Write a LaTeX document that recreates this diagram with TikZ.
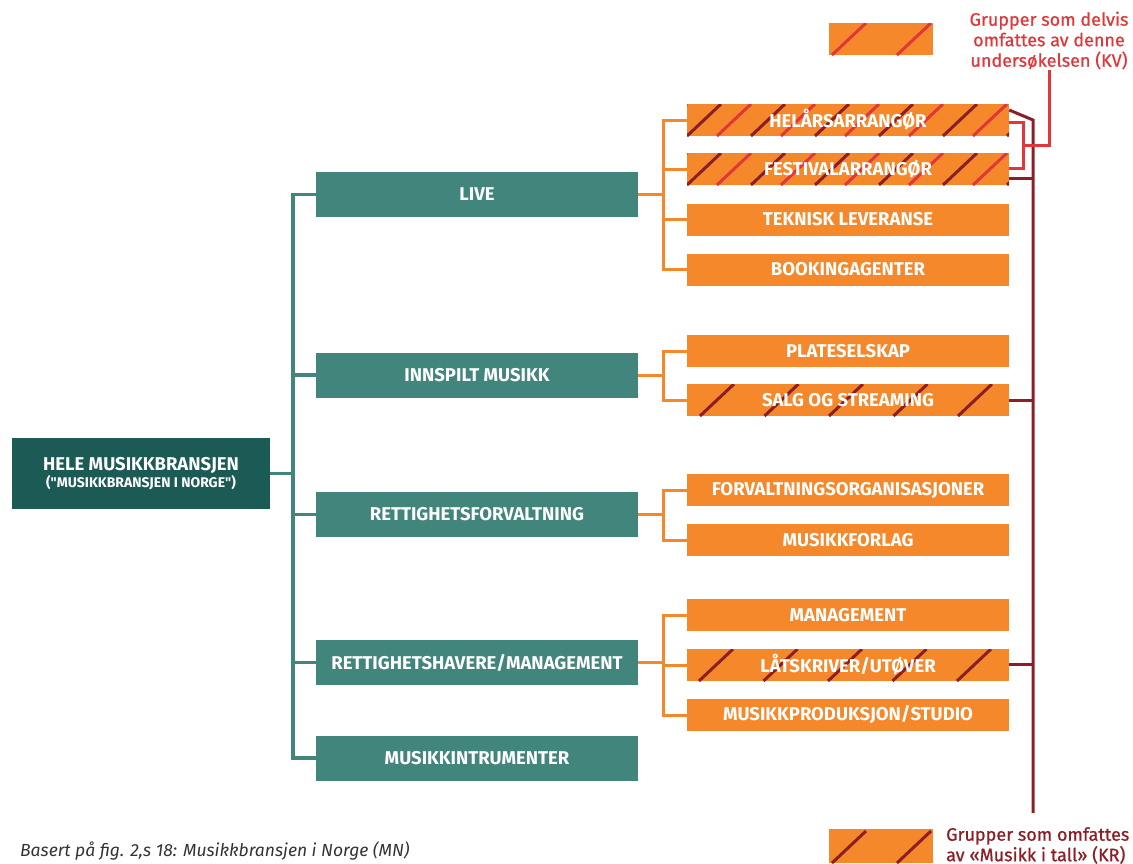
\documentclass[tikz,border=0pt]{standalone}
\usepackage{fontspec}
\setmainfont{Fira Sans}[Ligatures=TeXOff]
\newfontfamily\medfont[BoldFont=Fira Sans, BoldFeatures={FakeBold=0.8}]{Fira Sans}
\usetikzlibrary{calc}
\definecolor{teal1}{HTML}{42857C}
\definecolor{teal2}{HTML}{1C5A55}
\definecolor{org}{HTML}{F5882A}
\definecolor{kvred}{HTML}{E1373B}
\definecolor{krred}{HTML}{8C1F26}
\definecolor{foot}{HTML}{333333}
\begin{document}
\begin{tikzpicture}[x=1pt,y=-1pt,
  boxtxt/.style={text=white, font=\bfseries\fontsize{18.5}{21}\selectfont, inner sep=0pt, align=center},
  lvlone/.style={boxtxt, fill=teal1, minimum width=322pt, minimum height=45pt},
  rootbox/.style={boxtxt, fill=teal2, minimum width=258pt, minimum height=71pt},
  leaf/.style={boxtxt, fill=org, minimum width=322pt, minimum height=32pt},
  legbox/.style={fill=org, minimum width=104pt, minimum height=32pt, inner sep=0pt},
  hatch/.style n args={3}{path picture={\foreach \i in {-1,...,7}{\draw[#1,line width=3pt] ([xshift={(\i*#3+#2)*1pt}]path picture bounding box.south west) -- ++(34pt,32pt);}}},
  hatchtwo/.style={path picture={\foreach \i in {-1,...,6}{\draw[krred,line width=3pt] ([xshift={\i*64pt}]path picture bounding box.south west) -- ++(34pt,32pt);\draw[kvred,line width=3pt] ([xshift={\i*64pt+30pt}]path picture bounding box.south west) -- ++(34pt,32pt);}}},
  tline/.style={draw=teal1, line width=3.5pt},
  oline/.style={draw=org, line width=3pt},
  krline/.style={draw=krred, line width=3pt},
  kvline/.style={draw=kvred, line width=3pt},
  legtxt/.style={font=\medfont\bfseries\fontsize{18}{20.5}\selectfont, inner sep=0pt}
]
\useasboundingbox (0,0) rectangle (1133,863);

% root and level one
\node[rootbox] (root) at (141,473.5) {HELE MUSIKKBRANSJEN\\[-4pt]{\fontsize{14}{15}\selectfont("MUSIKKBRANSJEN I NORGE")}};
\node[lvlone] (live)  at (477,194.5) {LIVE};
\node[lvlone] (inn)   at (477,375)   {INNSPILT MUSIKK};
\node[lvlone] (rforv) at (477,514.5) {RETTIGHETSFORVALTNING};
\node[lvlone] (rhav)  at (477,662.5) {RETTIGHETSHAVERE/MANAGEMENT};
\node[lvlone] (instr) at (477,758)   {MUSIKKINTRUMENTER};

% leaves
\node[leaf,hatchtwo] (hel)  at (848,120) {HELÅRSARRANGØR};
\node[leaf,hatchtwo] (fest) at (848,169) {FESTIVALARRANGØR};
\node[leaf] (tek)  at (848,219.5) {TEKNISK LEVERANSE};
\node[leaf] (book) at (848,269.5) {BOOKINGAGENTER};
\node[leaf] (plate) at (848,351) {PLATESELSKAP};
\node[leaf,hatch={krred}{13}{64.5}] (salg) at (848,400) {SALG OG STREAMING};
\node[leaf] (forv) at (848,490) {FORVALTNINGSORGANISASJONER};
\node[leaf] (forl) at (848,540) {MUSIKKFORLAG};
\node[leaf] (mgmt) at (848,615) {MANAGEMENT};
\node[leaf,hatch={krred}{12}{64.5}] (lat) at (848,665) {LÅTSKRIVER/UTØVER};
\node[leaf] (prod) at (848,715) {MUSIKKPRODUKSJON/STUDIO};

% legends
\node[legbox,hatch={kvred}{3}{65}] (kvbox) at (881,39) {};
\node[legtxt,text=kvred,align=center,anchor=north] (kvtext) at (1049,11.5) {Grupper som delvis\\omfattes av denne\\undersøkelsen (KV)};
\node[legbox,hatch={krred}{3}{65},minimum height=34pt] (krbox) at (881,846) {};
\node[legtxt,text=krred,align=left,anchor=north west] (krtext) at (946,827) {Grupper som omfattes\\av «Musikk i tall» (KR)};
\node[font=\itshape\fontsize{17.5}{20}\selectfont,text=foot,anchor=base west,inner sep=0pt] (foot) at (20,856) {Basert på fig. 2,s 18: Musikkbransjen i Norge (MN)};
\coordinate (krend) at (1033,813);

% teal tree
\foreach \n in {live,inn,rforv,rhav,instr}
  \draw[tline] (root.east) -- ++(23,0) |- (\n.west);
% orange trees
\foreach \n in {hel,fest,tek,book}
  \draw[oline] (live.east) -- ++(25,0) |- (\n.west);
\foreach \n in {plate,salg}
  \draw[oline] (inn.east) -- ++(25,0) |- (\n.west);
\foreach \n in {forv,forl}
  \draw[oline] (rforv.east) -- ++(25,0) |- (\n.west);
\foreach \n in {mgmt,lat,prod}
  \draw[oline] (rhav.east) -- ++(25,0) |- (\n.west);

% KR (dark red)
\draw[krline] ($(hel.east)+(0,-10)$) -- (hel.east -| krend) -- (krend);
\draw[krline] ($(fest.east)+(0,9)$) -- ($(fest.east -| krend)+(0,9)$);
\draw[krline] (salg.east) -- (salg.east -| krend);
\draw[krline] ($(lat.east)+(0,-1)$) -- ($(lat.east -| krend)+(0,-1)$);
% KV (red)
\draw[kvline] ($(hel.east)+(0,2)$) -- ++(14,0) |- ($(fest.east)+(0,-1)$);
\draw[kvline] (kvtext.south) |- ($(hel.east)+(14,25)$);
\end{tikzpicture}
\end{document}
